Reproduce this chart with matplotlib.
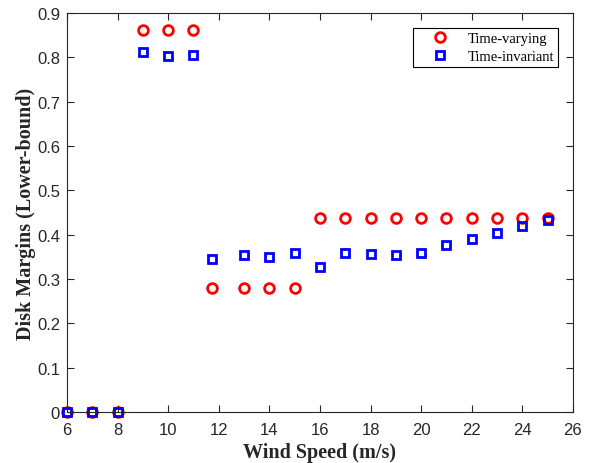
import matplotlib
matplotlib.use("Agg")
import matplotlib.pyplot as plt

# wind speeds (m/s)
wind = [6, 7, 8, 9, 10, 11, 11.75, 13, 14, 15, 16, 17, 18, 19, 20, 21, 22, 23, 24, 25]

# disk margins, lower bound
time_varying = [0, 0, 0, 0.862, 0.862, 0.862, 0.28, 0.28, 0.28, 0.28,
                0.438, 0.438, 0.438, 0.438, 0.438, 0.438, 0.438, 0.438, 0.438, 0.438]
time_invariant = [0, 0, 0, 0.811, 0.802, 0.804, 0.346, 0.355, 0.350, 0.359,
                  0.328, 0.358, 0.357, 0.354, 0.359, 0.377, 0.390, 0.404, 0.420, 0.432]

fig = plt.figure(figsize=(5.93, 4.64), dpi=100)
ax = fig.add_axes([0.113, 0.110, 0.853, 0.860])

ax.plot(wind, time_varying, 'o', ls='none', mfc='none', mec='red', mew=2.0, ms=7,
        clip_on=False, label='Time-varying')
ax.plot(wind, time_invariant, 's', ls='none', mfc='none', mec='blue', mew=2.0, ms=5.5,
        clip_on=False, label='Time-invariant')

ax.set_xlim(6, 26)
ax.set_ylim(0, 0.9)
ax.set_xticks(range(6, 27, 2))
ax.set_yticks([0, 0.1, 0.2, 0.3, 0.4, 0.5, 0.6, 0.7, 0.8, 0.9])
ax.set_yticklabels(['0', '0.1', '0.2', '0.3', '0.4', '0.5', '0.6', '0.7', '0.8', '0.9'])
ax.tick_params(direction='in', top=True, right=True, labelsize=12, colors='#262626',
               labelcolor='#262626', length=5)
ax.tick_params(axis='x', pad=7)
ax.tick_params(axis='y', pad=5)
for lab in ax.get_xticklabels() + ax.get_yticklabels():
    lab.set_family('Liberation Sans')
for s in ax.spines.values():
    s.set_color('#262626')
    s.set_linewidth(0.8)

ax.set_xlabel('Wind Speed (m/s)', family='Liberation Serif', fontweight='bold', fontsize=14.5,
              color='#262626', labelpad=4)
ax.set_ylabel('Disk Margins (Lower-bound)', family='Liberation Serif', fontweight='bold', fontsize=14.5,
              color='#262626', labelpad=1)

leg = ax.legend(loc='upper right', prop={'family': 'Liberation Serif', 'size': 10.5},
                fancybox=False, edgecolor='black', framealpha=1, borderaxespad=1.0,
                handlelength=3.1, handletextpad=0.35, borderpad=0.3, labelspacing=0.3)
leg.get_frame().set_linewidth(0.8)

fig.savefig('out.png', dpi=100)
